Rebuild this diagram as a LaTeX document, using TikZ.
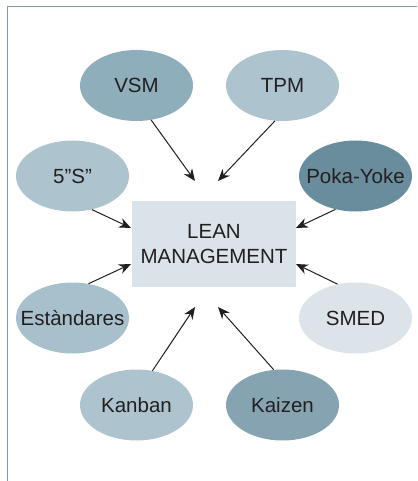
\documentclass[tikz,border=0pt]{standalone}
\usepackage{fontspec}
\setmainfont{Liberation Sans}
\usetikzlibrary{shapes.geometric,arrows.meta}
\definecolor{framec}{HTML}{7D9DAD}
\definecolor{cA}{HTML}{8FAEBB}
\definecolor{cB}{HTML}{ADC4CF}
\definecolor{cC}{HTML}{6A8D9D}
\definecolor{cD}{HTML}{A7C0CB}
\definecolor{cE}{HTML}{DCE4EA}
\definecolor{cF}{HTML}{86A3B2}
\definecolor{boxc}{HTML}{DAE3EA}
\definecolor{txt}{HTML}{231F20}
\newcommand{\ovtext}[1]{\makebox[0pt]{#1}}
\tikzset{
  x=1pt, y=-1pt,
  oval/.style={ellipse, draw=none, minimum width=113pt, minimum height=71pt, inner sep=0pt, font=\fontsize{20.5}{22}\selectfont, text=txt},
  arr/.style={-{Stealth[length=12pt,width=10pt]}, line width=1pt, draw=txt},
  lean/.style={rectangle, fill=boxc, minimum width=164pt, minimum height=86pt, align=center, font=\fontsize{20.5}{25}\selectfont, text=txt}
}
\begin{document}
\begin{tikzpicture}
\useasboundingbox (0,0) rectangle (417,481);
\draw[framec, line width=1.8pt] (7.5,481) -- (7.5,6.5) -- (417,6.5);
\node[lean] (lm) at (214,244) {LEAN\\MANAGEMENT};
\node[oval, fill=cA] (vsm) at (136.5,85.5) {\ovtext{VSM}};
\node[oval, fill=cB] (tpm) at (282.5,85.5) {\ovtext{TPM}};
\node[oval, fill=cB] (s5) at (72.5,176) {\ovtext{5"S”}};
\node[oval, fill=cC] (poka) at (355.5,176) {\ovtext{Poka-Yoke}};
\node[oval, fill=cD] (est) at (72.5,318) {\ovtext{Estàndares}};
\node[oval, fill=cE] (smed) at (355.5,318) {\ovtext{SMED}};
\node[oval, fill=cB] (kanban) at (136.5,405) {\ovtext{Kanban}};
\node[oval, fill=cF] (kaizen) at (282.5,405) {\ovtext{Kaizen}};
\coordinate (t1) at (195,181);
\coordinate (t2) at (218,181);
\coordinate (t3) at (131,228);
\coordinate (t4) at (296,228);
\coordinate (t5) at (131,264);
\coordinate (t6) at (296,264);
\coordinate (t7) at (195,307);
\coordinate (t8) at (218,307);
\draw[arr] (vsm.-67) -- (t1);
\draw[arr] (tpm.-102) -- (t2);
\draw[arr] (s5.-60) -- (t3);
\draw[arr] (poka.-121) -- (t4);
\draw[arr] (est.65) -- (t5);
\draw[arr] (smed.118) -- (t6);
\draw[arr] (kanban.65) -- (t7);
\draw[arr] (kaizen.104) -- (t8);
\end{tikzpicture}
\end{document}
